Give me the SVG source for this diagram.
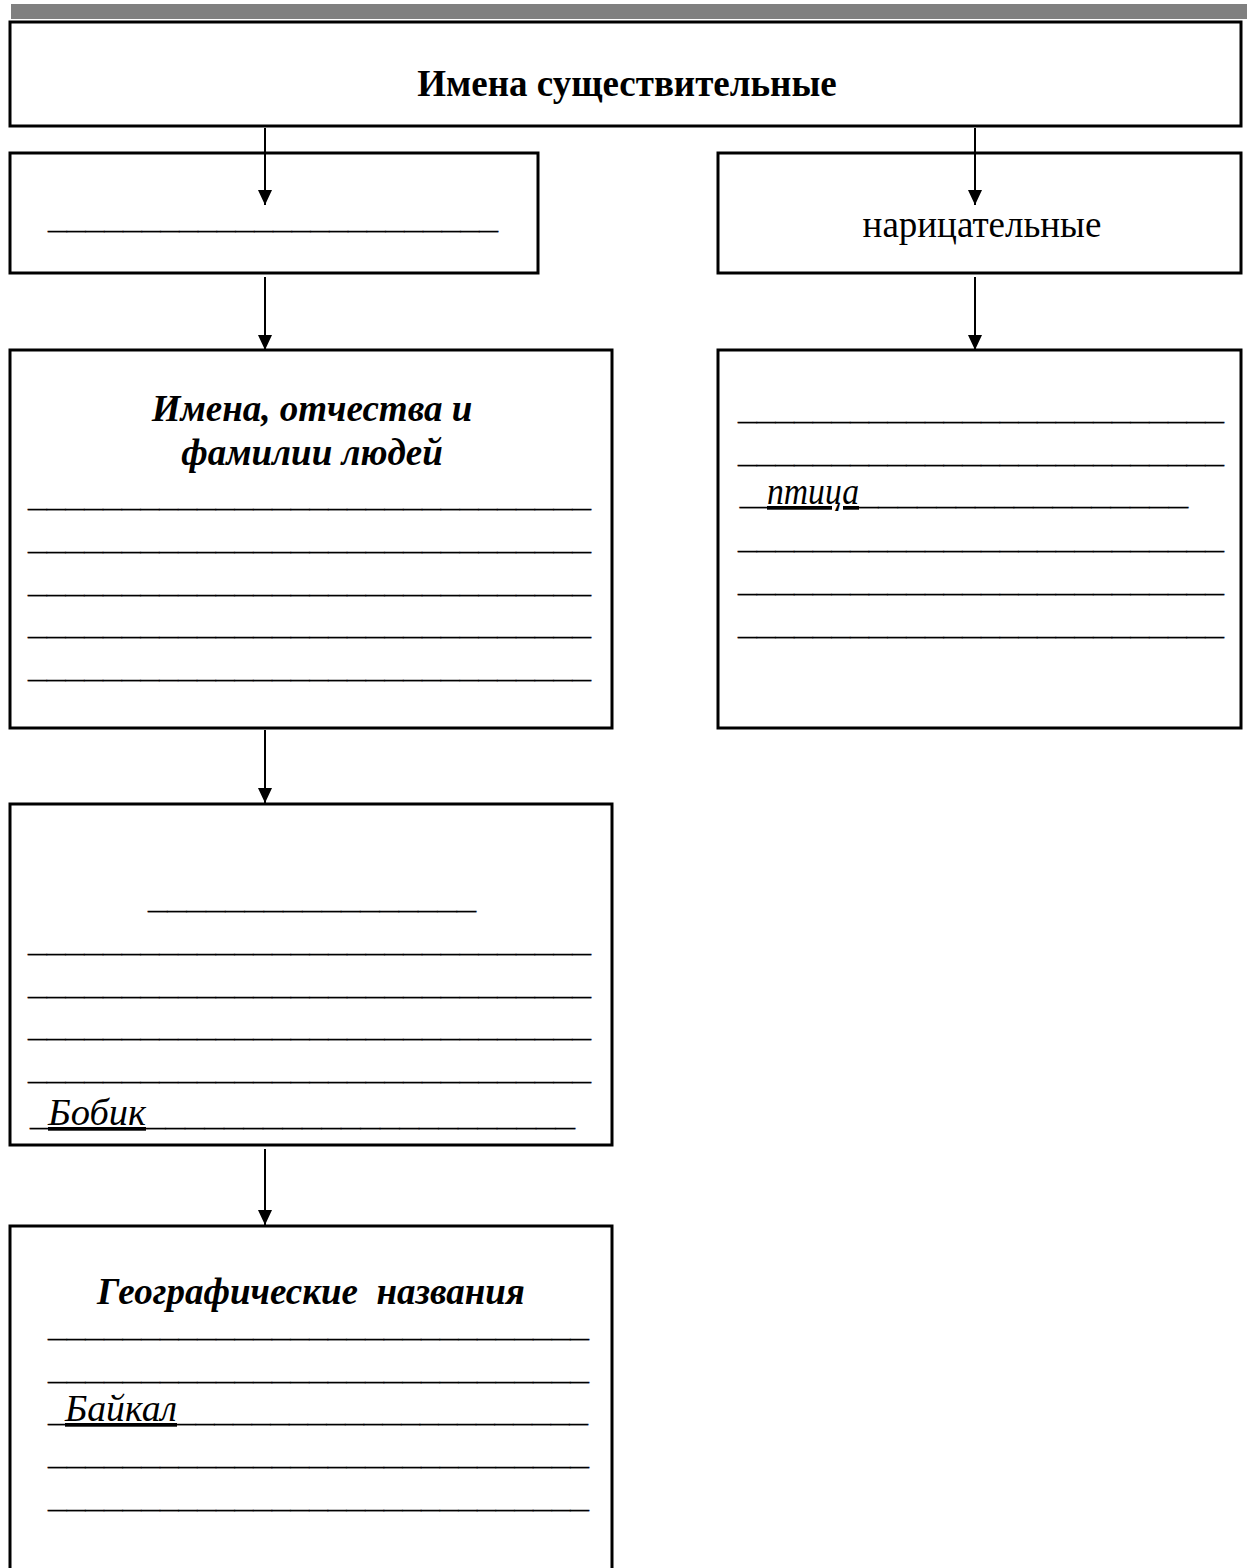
<svg xmlns="http://www.w3.org/2000/svg" width="1247" height="1568" viewBox="0 0 1247 1568">
<defs>
<style>
.box{fill:#fff;stroke:#000;stroke-width:3}
.t{font-family:"Liberation Serif","Times New Roman",serif;fill:#000}
.title{font-size:37px;font-weight:bold}
.reg{font-size:37px}
.bi{font-size:37px;font-weight:bold;font-style:italic}
.ln{font-size:26px;stroke:#000;stroke-width:0.3}
.it{font-size:37px;font-style:italic;text-decoration:underline;stroke:none}
.conn{stroke:#000;stroke-width:2;fill:none}
</style>
<marker id="ah" viewBox="0 0 15 14" refX="15" refY="7" markerWidth="15" markerHeight="14" markerUnits="userSpaceOnUse" orient="auto">
<path d="M0,0 L15,7 L0,14 Z" fill="#000"/>
</marker>
</defs>
<rect x="11" y="4" width="1236" height="15" fill="#808080"/>
<g id="n-root">
<rect class="box" x="10" y="22" width="1231" height="104"/>
<text class="t title" x="627" y="96" text-anchor="middle">Имена существительные</text>
</g>
<g id="n-proper">
<rect class="box" x="10" y="153" width="528" height="120"/>
<text class="t ln" x="48" y="229" textLength="450" lengthAdjust="spacingAndGlyphs">________________________</text>
</g>
<g id="n-common">
<rect class="box" x="718" y="153" width="523" height="120"/>
<text class="t reg" x="982" y="237" text-anchor="middle">нарицательные</text>
</g>
<g id="n-people">
<rect class="box" x="10" y="350" width="602" height="378"/>
<text class="t bi" x="312" y="421" text-anchor="middle">Имена, отчества и</text>
<text class="t bi" x="312" y="465" text-anchor="middle">фамилии людей</text>
<text class="t ln" x="28" y="507" textLength="563" lengthAdjust="spacingAndGlyphs">______________________________</text>
<text class="t ln" x="28" y="550" textLength="563" lengthAdjust="spacingAndGlyphs">______________________________</text>
<text class="t ln" x="28" y="593" textLength="563" lengthAdjust="spacingAndGlyphs">______________________________</text>
<text class="t ln" x="28" y="635" textLength="563" lengthAdjust="spacingAndGlyphs">______________________________</text>
<text class="t ln" x="28" y="678" textLength="563" lengthAdjust="spacingAndGlyphs">______________________________</text>
</g>
<g id="n-common-list">
<rect class="box" x="718" y="350" width="523" height="378"/>
<text class="t ln" x="738" y="420" textLength="486" lengthAdjust="spacingAndGlyphs">__________________________</text>
<text class="t ln" x="738" y="463" textLength="486" lengthAdjust="spacingAndGlyphs">__________________________</text>
<text class="t" y="505"><tspan class="ln" x="740" textLength="27" lengthAdjust="spacingAndGlyphs">_</tspan><tspan class="it" x="767" y="504" textLength="92" lengthAdjust="spacingAndGlyphs">птица</tspan><tspan class="ln" x="859" y="505" textLength="329" lengthAdjust="spacingAndGlyphs">_________________</tspan></text>
<text class="t ln" x="738" y="549" textLength="486" lengthAdjust="spacingAndGlyphs">__________________________</text>
<text class="t ln" x="738" y="592" textLength="486" lengthAdjust="spacingAndGlyphs">__________________________</text>
<text class="t ln" x="738" y="635" textLength="486" lengthAdjust="spacingAndGlyphs">__________________________</text>
</g>
<g id="n-animals">
<rect class="box" x="10" y="804" width="602" height="341"/>
<text class="t ln" x="148" y="909" textLength="328" lengthAdjust="spacingAndGlyphs">_________________</text>
<text class="t ln" x="28" y="952" textLength="563" lengthAdjust="spacingAndGlyphs">______________________________</text>
<text class="t ln" x="28" y="995" textLength="563" lengthAdjust="spacingAndGlyphs">______________________________</text>
<text class="t ln" x="28" y="1037" textLength="563" lengthAdjust="spacingAndGlyphs">______________________________</text>
<text class="t ln" x="28" y="1080" textLength="563" lengthAdjust="spacingAndGlyphs">______________________________</text>
<text class="t" y="1126"><tspan class="ln" x="30" textLength="18" lengthAdjust="spacingAndGlyphs">_</tspan><tspan class="it" x="48" y="1125" textLength="98" lengthAdjust="spacingAndGlyphs">Бобик</tspan><tspan class="ln" x="146" y="1126" textLength="429" lengthAdjust="spacingAndGlyphs">______________________</tspan></text>
</g>
<g id="n-geo">
<rect class="box" x="10" y="1226" width="602" height="360"/>
<text class="t bi" x="311" y="1304" text-anchor="middle" xml:space="preserve">Географические  названия</text>
<text class="t ln" x="48" y="1337" textLength="541" lengthAdjust="spacingAndGlyphs">_____________________________</text>
<text class="t ln" x="48" y="1380" textLength="541" lengthAdjust="spacingAndGlyphs">_____________________________</text>
<text class="t" y="1422"><tspan class="ln" x="48" textLength="17" lengthAdjust="spacingAndGlyphs">_</tspan><tspan class="it" x="65" y="1421" textLength="112" lengthAdjust="spacingAndGlyphs">Байкал</tspan><tspan class="ln" x="177" y="1422" textLength="411" lengthAdjust="spacingAndGlyphs">______________________</tspan></text>
<text class="t ln" x="48" y="1465" textLength="541" lengthAdjust="spacingAndGlyphs">_____________________________</text>
<text class="t ln" x="48" y="1508" textLength="541" lengthAdjust="spacingAndGlyphs">_____________________________</text>
</g>
<g id="connectors">
<line class="conn" x1="265" y1="128" x2="265" y2="205" marker-end="url(#ah)"/>
<line class="conn" x1="975" y1="128" x2="975" y2="205" marker-end="url(#ah)"/>
<line class="conn" x1="265" y1="277" x2="265" y2="350" marker-end="url(#ah)"/>
<line class="conn" x1="975" y1="277" x2="975" y2="350" marker-end="url(#ah)"/>
<line class="conn" x1="265" y1="730" x2="265" y2="803" marker-end="url(#ah)"/>
<line class="conn" x1="265" y1="1149" x2="265" y2="1225" marker-end="url(#ah)"/>
</g>
</svg>
